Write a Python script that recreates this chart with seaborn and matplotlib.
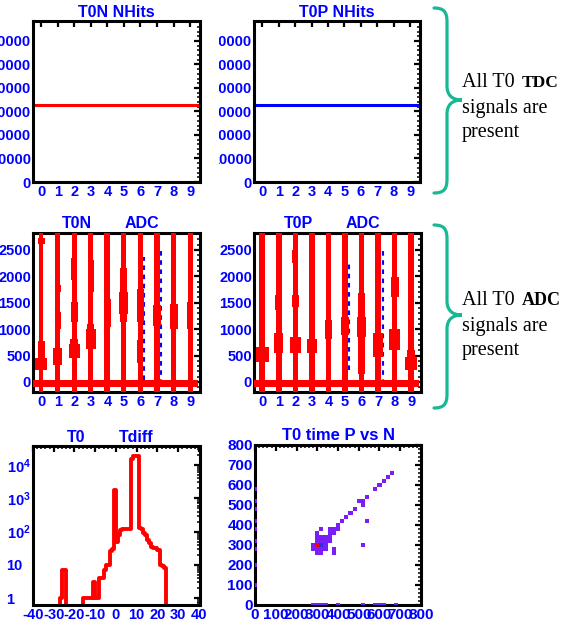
import matplotlib
matplotlib.use("Agg")
import matplotlib.pyplot as plt
import seaborn as sns
from matplotlib.colors import ListedColormap
from matplotlib.ticker import MultipleLocator, AutoMinorLocator
from matplotlib.transforms import Bbox, TransformedBbox
from matplotlib.path import Path
from matplotlib.patches import PathPatch

# ---------------- data ----------------
channels = [0, 1, 2, 3, 4, 5, 6, 7, 8, 9]

# NHits per channel (flat)
nhits_n = [32800, 32800, 32800, 32800, 32800, 32800, 32800, 32800, 32800, 32800]
nhits_p = [32800, 32800, 32800, 32800, 32800, 32800, 32800, 32800, 32800, 32800]
nhits_ticks = [0, 10000, 20000, 30000, 40000, 50000, 60000]

# ADC 2D box histograms: base column size per channel (fraction of a bin)
adc_n_base = [0.27, 0.30, 0.30, 0.30, 0.36, 0.30, 0.30, 0.33, 0.33, 0.30]
adc_p_base = [0.36, 0.33, 0.33, 0.33, 0.30, 0.33, 0.33, 0.39, 0.33, 0.33]

# denser regions: channel, low ADC, high ADC, box size
adc_n_ch = [0, 0, 0, 1, 1, 1, 2, 2, 2, 2, 3, 3, 3, 4, 5, 5, 5, 6, 6, 7, 8, 9]
adc_n_lo = [230, 460, 2610, 330, 1000, 1700, 455, 710, 1130, 1930, 615, 1000, 1705,
            1045, 1128, 1290, 1706, 1128, 350, 1064, 1000, 1000]
adc_n_hi = [460, 780, 2730, 650, 1320, 1830, 710, 810, 1515, 2346, 1000, 1100, 2315,
            1580, 1290, 1706, 2154, 1769, 790, 1449, 1480, 1513]
adc_n_sz = [0.73, 0.42, 0.42, 0.55, 0.39, 0.39, 0.67, 0.48, 0.39, 0.36, 0.61, 0.42, 0.36,
            0.45, 0.42, 0.55, 0.42, 0.42, 0.36, 0.48, 0.48, 0.39]

adc_p_ch = [0, 0, 0, 0, 1, 1, 2, 2, 2, 3, 3, 4, 5, 5, 5, 6, 6, 6, 7, 7, 8, 8, 9, 9]
adc_p_lo = [380, 1045, 1710, 2440, 540, 1360, 540, 1425, 2250, 540, 1360, 820, 886, 475,
            1800, 855, 1234, 160, 475, 0, 600, 1615, 220, 475]
adc_p_hi = [665, 1300, 1800, 2630, 920, 1650, 855, 1650, 2500, 820, 1550, 1170, 1234, 730,
            2180, 1234, 1680, 855, 920, 475, 1010, 1990, 475, 600]
adc_p_sz = [0.79, 0.39, 0.36, 0.36, 0.55, 0.42, 0.67, 0.39, 0.36, 0.61, 0.36, 0.42, 0.48, 0.36,
            0.39, 0.58, 0.39, 0.39, 0.58, 0.42, 0.64, 0.48, 0.76, 0.48]

# pedestal cells (one per channel)
ped_lo = -100
ped_hi = 28

# blue dashed second histogram
blue_n_x = [6.2, 7.23]
blue_n_lo = [32, -30]
blue_n_hi = [2374, 2500]
blue_p_x = [5.25, 7.3]
blue_p_lo = [220, -30]
blue_p_hi = [2310, 2500]
adc_ticks = [0, 500, 1000, 1500, 2000, 2500]

# T0 Tdiff histogram, 1 ns bins starting at -28
tdiff_edges = list(range(-28, 27))
tdiff_counts = [0, 1, 7, 7, 0, 0, 0, 0, 0, 0, 0, 0,
                1, 1, 1, 1, 1, 3, 1, 1, 4, 4, 7, 10, 10, 27, 30,
                1800, 50, 80, 110, 120, 120, 120, 120,
                15000, 18000, 19000, 19000,
                125, 120, 89, 79, 56, 45, 35, 33, 32, 28, 10, 9, 8, 0, 0]
tdiff_yticks = [1, 10, 100, 1000, 10000]
tdiff_ylabels = ["1", "10", r"$\mathbf{10^{2}}$", r"$\mathbf{10^{3}}$", r"$\mathbf{10^{4}}$"]

# T0 time P vs N, 20-unit cells (x = N, y = P, content)
cell_n = [660, 640, 620, 600, 580, 540, 500, 520, 520, 480, 460, 440, 420, 400,
          360, 380, 400, 360, 380, 320, 300,
          300, 320, 340, 360, 300, 320, 340, 360,
          280, 300, 320, 340, 280, 300, 320, 340, 300, 320,
          380, 380, 520, 540,
          0, 0, 0, 0, 0, 0, 0, 0, 0,
          280, 300, 320, 340, 400, 520, 580, 600, 620, 680]
cell_p = [660, 640, 620, 600, 580, 540, 520, 520, 500, 480, 460, 440, 420, 400,
          380, 380, 380, 360, 360, 380, 360,
          340, 340, 340, 340, 320, 320, 320, 320,
          300, 300, 300, 300, 280, 280, 280, 280, 260, 260,
          280, 260, 300, 420,
          580, 520, 480, 420, 380, 320, 280, 200, 100,
          0, 0, 0, 0, 0, 0, 0, 0, 0, 0]
cell_w = [2, 2, 2, 2, 2, 2, 2, 2, 2, 2, 2, 2, 2, 2,
          2, 2, 2, 2, 2, 2, 2,
          2, 2, 2, 2, 2, 2, 2, 2,
          2, 9.5, 6, 2, 2, 2, 2, 2, 2, 2,
          2, 2, 2, 2,
          2, 2, 2, 2, 2, 2, 2, 2, 2,
          2, 2, 2, 2, 2, 2, 2, 2, 2, 2]
time_ticks = [0, 100, 200, 300, 400, 500, 600, 700, 800]

RED = "#ff0000"
BLUE = "#0000ff"
VIOLET = "#7a1ef7"
MIDBLUE = "#2e2ee8"
TEAL = "#19b894"

# ---------------- style ----------------
sns.set_style("white")
plt.rcParams.update({
    "font.family": ["Liberation Sans", "DejaVu Sans"],
    "font.weight": "bold",
    "axes.unicode_minus": False,
    "mathtext.fontset": "custom",
    "mathtext.rm": "Liberation Sans:bold",
    "mathtext.bf": "Liberation Sans:bold",
    "mathtext.it": "Liberation Sans:bold",
})

W, H = 576, 640
fig = plt.figure(figsize=(W / 100, H / 100), dpi=100)


def box(x0, y0, x1, y1):
    # pixel box (y from top) -> figure fraction rect
    return [x0 / W, 1 - y1 / H, (x1 - x0) / W, (y1 - y0) / H]


def frame(ax, size=10.5):
    for s in ax.spines.values():
        s.set_visible(True)
        s.set_linewidth(2.2)
        s.set_color("black")
    ax.tick_params(which="both", direction="in", top=True, right=True,
                   colors="black", labelcolor=BLUE, labelsize=size)
    ax.tick_params(which="major", length=4.5, width=1.6)
    ax.tick_params(which="minor", length=2.2, width=1.1)
    ax.tick_params(axis="x", pad=2)
    ax.tick_params(axis="y", pad=1.5)
    ax.set_xlabel("")
    ax.set_ylabel("")


def title(ax, txt, xf=0.5, y=1.027, size=11.5):
    ax.text(xf, y, txt, transform=ax.transAxes, ha="center", va="baseline",
            color=BLUE, fontsize=size, fontweight="bold")


step_edges = [c - 0.5 for c in channels] + [channels[-1] + 0.5]

# ---------------- NHits ----------------
ax_nn = fig.add_axes(box(33, 21, 200, 182))
ax_np = fig.add_axes(box(254, 21, 420, 182))
for ax, vals, col, name in [(ax_nn, nhits_n, RED, "T0N NHits"), (ax_np, nhits_p, BLUE, "T0P NHits")]:
    sns.lineplot(x=step_edges, y=vals + [vals[-1]], drawstyle="steps-post",
                 color=col, linewidth=2.2, ax=ax)
    ax.set_xlim(-0.5, 9.6)
    ax.set_ylim(0, 68500)
    ax.set_xticks(channels)
    ax.set_yticks(nhits_ticks)
    ax.yaxis.set_minor_locator(AutoMinorLocator(5))
    frame(ax)
    title(ax, name)

# ---------------- ADC ----------------
ADC_LO, ADC_HI = -200, 2850
ax_an = fig.add_axes(box(33, 233, 200, 392))
ax_ap = fig.add_axes(box(254, 233, 421, 392))
adc_sets = [
    (ax_an, adc_n_base, adc_n_ch, adc_n_lo, adc_n_hi, adc_n_sz, blue_n_x, blue_n_lo, blue_n_hi, "T0N"),
    (ax_ap, adc_p_base, adc_p_ch, adc_p_lo, adc_p_hi, adc_p_sz, blue_p_x, blue_p_lo, blue_p_hi, "T0P"),
]
for ax, base, sch, slo, shi, ssz, bx, blo, bhi, name in adc_sets:
    ax.vlines(bx, blo, bhi, colors=BLUE, linewidth=1.5, linestyles=(0, (2.2, 2.2)), zorder=0.5)
    ax.bar(channels, ADC_HI - ADC_LO, bottom=ADC_LO, width=base, color=RED, linewidth=0, zorder=3)
    ax.bar(sch, [h - l for l, h in zip(slo, shi)], bottom=slo, width=ssz, color=RED,
           linewidth=0, zorder=3)
    ax.bar(channels, ped_hi - ped_lo, bottom=ped_lo, width=1.0, color=RED, linewidth=0, zorder=3)
    ax.set_xlim(-0.5, 9.6)
    ax.set_ylim(-190, 2820)
    ax.set_xticks(channels)
    ax.set_yticks(adc_ticks)
    ax.yaxis.set_minor_locator(AutoMinorLocator(5))
    frame(ax)
    title(ax, name, xf=0.265, y=1.031)
    title(ax, "ADC", xf=0.655, y=1.031)

# ---------------- Tdiff ----------------
ax_td = fig.add_axes(box(33, 446, 200, 605))
centers = [e + 0.5 for e in tdiff_edges[:-1]]
sns.histplot(x=centers, weights=tdiff_counts, bins=tdiff_edges, element="step",
             fill=False, color=RED, linewidth=2.8, ax=ax_td)
ax_td.set_yscale("log")
ax_td.set_xlim(-40, 40.5)
ax_td.set_ylim(0.63, 37000)
ax_td.xaxis.set_major_locator(MultipleLocator(10))
ax_td.xaxis.set_minor_locator(AutoMinorLocator(5))
ax_td.set_yticks(tdiff_yticks)
ax_td.set_yticklabels(tdiff_ylabels)
frame(ax_td)
ax_td.tick_params(axis="y", pad=19)
for lab in ax_td.get_yticklabels():
    lab.set_horizontalalignment("left")
title(ax_td, "T0", xf=0.26)
title(ax_td, "Tdiff", xf=0.62)

# ---------------- T0 time P vs N ----------------
ax_2d = fig.add_axes(box(255, 445, 421, 605))
cmap = ListedColormap([VIOLET] * 4 + [MIDBLUE] * 4 + [RED] * 2)
sns.histplot(x=cell_n, y=cell_p, weights=cell_w, bins=40,
             binrange=((-10, 790), (-10, 790)), cmap=cmap, vmin=0, vmax=10,
             cbar=False, ax=ax_2d)
for coll in ax_2d.collections:
    coll.set_zorder(3)
ax_2d.set_xlim(0, 800)
ax_2d.set_ylim(0, 800)
ax_2d.set_xticks(time_ticks)
ax_2d.set_yticks(time_ticks)
ax_2d.xaxis.set_minor_locator(AutoMinorLocator(5))
ax_2d.yaxis.set_minor_locator(AutoMinorLocator(5))
frame(ax_2d, size=11)
title(ax_2d, "T0 time P vs N", y=1.03, size=12)

# labels of the right-hand pad are cut at the pad edge
pad_clip = TransformedBbox(Bbox.from_extents(219 / W, 0, 1, 1), fig.transFigure)
for lab in ax_np.get_yticklabels():
    lab.set_clip_box(pad_clip)
    lab.set_clip_on(True)

# ---------------- braces and notes ----------------
ov = fig.add_axes([0, 0, 1, 1], zorder=-1)
ov.set_xlim(0, W)
ov.set_ylim(H, 0)
ov.set_axis_off()


def brace(top, mid, bot, x_tip=434, x_v=447, x_mid=462):
    verts = [(x_tip, top), (x_v - 3, top), (x_v, top + 4), (x_v, top + 14),
             (x_v, mid - 14), (x_v, mid - 5), (x_v + 5, mid), (x_mid, mid),
             (x_v + 5, mid), (x_v, mid + 5), (x_v, mid + 14),
             (x_v, bot - 14), (x_v, bot - 4), (x_v - 3, bot), (x_tip, bot)]
    codes = [Path.MOVETO, Path.CURVE4, Path.CURVE4, Path.CURVE4,
             Path.LINETO, Path.CURVE4, Path.CURVE4, Path.CURVE4,
             Path.CURVE4, Path.CURVE4, Path.CURVE4,
             Path.LINETO, Path.CURVE4, Path.CURVE4, Path.CURVE4]
    ov.add_patch(PathPatch(Path(verts, codes), facecolor="none", edgecolor=TEAL,
                           linewidth=2.3, capstyle="round"))


def note(y0, word, wsize):
    serif = ["Liberation Serif", "DejaVu Serif"]
    t = ov.text(462, y0, "All T0", family=serif, fontsize=14.5, fontweight="normal",
                color="black", va="baseline", ha="left")
    ov.annotate(word, xy=(1, y0), xycoords=(t, "data"), xytext=(5, 0),
                textcoords="offset points", family=serif, fontsize=wsize,
                fontweight="bold", color="black", va="baseline", ha="left")
    ov.text(462, y0 + 25.5, "signals are", family=serif, fontsize=14.5,
            fontweight="normal", color="black", va="baseline", ha="left")
    ov.text(462, y0 + 50.5, "present", family=serif, fontsize=14.5,
            fontweight="normal", color="black", va="baseline", ha="left")


brace(8, 100, 193)
brace(225, 315, 408)
note(87, "TDC", 12.5)
note(305, "ADC", 13)

fig.savefig("out.png", dpi=100, facecolor="white")
